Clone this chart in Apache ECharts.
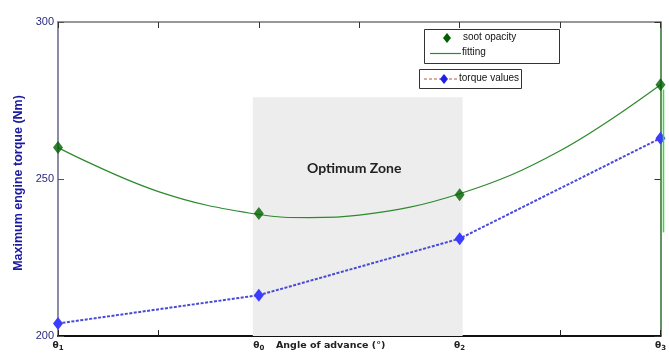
<!DOCTYPE html>
<html>
<head>
<meta charset="utf-8">
<script src="https://cdn.jsdelivr.net/npm/echarts@6/dist/echarts.min.js"></script>
<style>
  html, body { margin: 0; padding: 0; background: #fff; }
  #chart { width: 669px; height: 353px; }
</style>
</head>
<body>
<div id="chart"></div>
<script>
// Angle of advance positions (θ1, θ0, θ2, θ3) on a 0..6 axis
const anglePositions = [0, 2, 4, 6];
const angleTickLabels = { 0: '1', 2: '0', 4: '2', 6: '3' };
// Soot opacity measurements and torque values (Nm)
const sootOpacity = [260, 239, 245, 280];
const torqueValues = [204, 213, 231, 263];
// Fitted soot opacity curve, sampled along the angle axis
const fittingAngles = [0, 1, 2, 2.5, 3, 4, 5, 6];
const fittingValues = [260, 246, 238.7, 237.7, 238.5, 245.3, 259, 280];
// Optimum zone extent
const optimumZoneX = [1.94, 4.03];
const optimumZoneTop = 276;
// Bright marker bar just right of θ3
const edgeBar = { x: 6.03, from: 278.5, to: 233 };
// Y axis range
const yMin = 200, yMax = 300, yStep = 50;

const chart = echarts.init(document.getElementById('chart'));

const pair = (xs, ys) => xs.map((x, i) => [x, ys[i]]);

const option = {
  animation: false,
  backgroundColor: '#fff',
  grid: { left: 58, right: 4, top: 22, bottom: 17, containLabel: false },
  xAxis: [{
    type: 'value', min: 0, max: 6, interval: 1, position: 'bottom',
    axisLine: { onZero: false, lineStyle: { color: '#111', width: 2 } },
    axisTick: { inside: true, length: 6, lineStyle: { color: '#222', width: 1 } },
    splitLine: { show: false },
    axisLabel: {
      margin: 4,
      formatter: v => angleTickLabels[v] !== undefined ? '{t|θ}{s|' + angleTickLabels[v] + '}' : '',
      rich: {
        t: { fontFamily: 'DejaVu Sans', fontWeight: 'bold', fontSize: 9, color: '#222' },
        s: { fontFamily: 'DejaVu Sans', fontWeight: 'bold', fontSize: 7, color: '#222', verticalAlign: 'bottom', padding: [5, 0, 0, 0] }
      }
    }
  }, {
    type: 'value', min: 0, max: 6, interval: 1, position: 'top',
    axisLine: { onZero: false, lineStyle: { color: '#777', width: 1.5 } },
    axisTick: { inside: true, length: 6, lineStyle: { color: '#333' } },
    axisLabel: { show: false }, splitLine: { show: false }
  }],
  yAxis: [{
    type: 'value', min: yMin, max: yMax, interval: yStep, position: 'left',
    name: 'Maximum engine torque (Nm)', nameLocation: 'middle', nameGap: 31,
    nameTextStyle: { fontFamily: 'Liberation Sans', fontWeight: 'bold', fontSize: 12.5, color: '#1a1aa0', padding: [0, 8, 0, 0] },
    axisLine: { show: true, onZero: false, lineStyle: { color: '#66668a', width: 1.5 } },
    axisTick: { inside: true, length: 6, lineStyle: { color: '#555' } },
    axisLabel: { margin: 4, fontFamily: 'Liberation Sans', fontSize: 11, color: '#2a2a80' },
    splitLine: { show: false }
  }, {
    type: 'value', min: yMin, max: yMax, interval: yStep, position: 'right',
    axisLine: { show: true, onZero: false, lineStyle: { color: '#2f6f2f', width: 1.5 } },
    axisTick: { inside: true, length: 6, lineStyle: { color: '#333' } },
    axisLabel: { show: false }, splitLine: { show: false }
  }],
  series: [{
    name: 'torque values',
    type: 'line',
    data: pair(anglePositions, torqueValues),
    symbol: 'diamond', symbolSize: [10, 13],
    itemStyle: { color: '#3c3cff' },
    lineStyle: { color: '#4a4ad8', width: 2, type: [3, 1.5] },
    markArea: {
      silent: true,
      itemStyle: { color: '#ededed' },
      data: [[{ coord: [optimumZoneX[0], yMin] }, { coord: [optimumZoneX[1], optimumZoneTop] }]]
    },
    z: 3
  }, {
    name: 'fitting',
    type: 'line',
    data: pair(fittingAngles, fittingValues),
    smooth: 0.4,
    symbol: 'none',
    lineStyle: { color: '#2e8a2e', width: 1.2 },
    z: 2
  }, {
    name: 'soot opacity',
    type: 'scatter',
    data: pair(anglePositions, sootOpacity),
    symbol: 'diamond', symbolSize: [10, 13],
    itemStyle: { color: '#006000' },
    z: 4
  }],
  graphic: [
    // axis title under the x axis
    { type: 'text', left: 276, top: 341, style: { text: 'Angle of advance (°)', fontFamily: 'DejaVu Sans', fontWeight: 'bold', fontSize: 9.5, fill: '#222' } },
    // legend box for soot opacity and fitting
    { type: 'rect', shape: { x: 424.5, y: 29.5, width: 135, height: 34 }, style: { fill: '#fff', stroke: '#333', lineWidth: 1 }, z: 10 },
    { type: 'polygon', shape: { points: [[447, 33], [451, 38], [447, 43], [443, 38]] }, style: { fill: '#006000' }, z: 11 },
    { type: 'text', left: 463, top: 32, style: { text: 'soot opacity', fontFamily: 'Liberation Sans', fontSize: 10, fill: '#111' }, z: 11 },
    { type: 'line', shape: { x1: 430, y1: 53.5, x2: 461, y2: 53.5 }, style: { stroke: '#2e8a2e', lineWidth: 1.2 }, z: 11 },
    { type: 'text', left: 462, top: 47, style: { text: 'fitting', fontFamily: 'Liberation Sans', fontSize: 10, fill: '#111' }, z: 11 },
    // legend box for torque values
    { type: 'rect', shape: { x: 419.5, y: 69.5, width: 102, height: 19 }, style: { fill: '#fff', stroke: '#333', lineWidth: 1 }, z: 10 },
    { type: 'line', shape: { x1: 424, y1: 79, x2: 458, y2: 79 }, style: { stroke: '#b05a50', lineWidth: 1, lineDash: [3, 2] }, z: 11 },
    { type: 'polygon', shape: { points: [[444, 74], [448, 79], [444, 84], [440, 79]] }, style: { fill: '#2020e0' }, z: 12 },
    { type: 'text', left: 459, top: 73, style: { text: 'torque values', fontFamily: 'Liberation Sans', fontSize: 10, fill: '#111' }, z: 11 }
  ]
};

chart.setOption(option);

// Zone caption and edge bar placed through the axes' own scales
const toPx = p => chart.convertToPixel({ xAxisIndex: 0, yAxisIndex: 0 }, p);
const captionPos = toPx([2.95, 253.5]);
const barTop = toPx([edgeBar.x, edgeBar.from]);
const barBottom = toPx([edgeBar.x, edgeBar.to]);
chart.setOption({
  graphic: option.graphic.concat([{
    type: 'text', x: captionPos[0], y: captionPos[1],
    style: { text: 'Optimum Zone', fontFamily: 'Lato', fontWeight: 'bold', fontSize: 14, fill: '#222', align: 'center', verticalAlign: 'middle' },
    z: 5
  }, {
    type: 'line',
    shape: { x1: barTop[0], y1: barTop[1], x2: barBottom[0], y2: barBottom[1] },
    style: { stroke: '#33dd33', lineWidth: 1.5 },
    z: 6
  }])
});
</script>
</body>
</html>
